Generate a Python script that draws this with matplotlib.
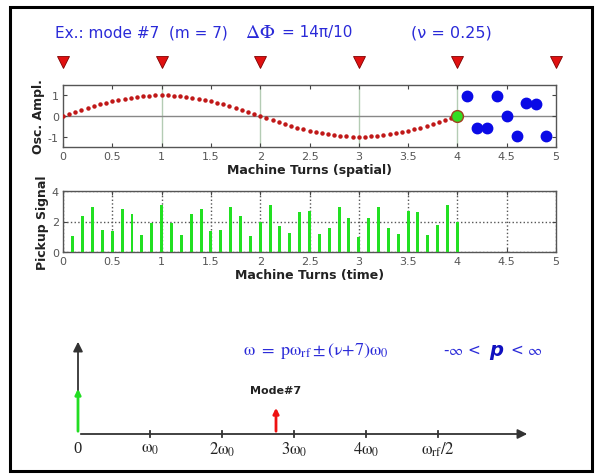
import numpy as np
import matplotlib
matplotlib.use("Agg")
import matplotlib.pyplot as plt
from matplotlib.patches import Rectangle

plt.rcParams['font.family'] = ['DejaVu Sans']
plt.rcParams['mathtext.fontset'] = 'stix'

# ---------------- data ----------------
# spatial oscillation (red dots), sampled every 1/16 turn from 0 to 4
osc_amp = [0, .10, .20, .29, .38, .47, .56, .63, .71, .77, .83, .88, .92, .96, .98, 1.0, 1.0,
           1.0, .98, .96, .92, .88, .83, .77, .71, .63, .56, .47, .38, .29, .20, .10, 0,
           -.10, -.20, -.29, -.38, -.47, -.56, -.63, -.71, -.77, -.83, -.88, -.92, -.96, -.98, -1.0, -1.0,
           -1.0, -.98, -.96, -.92, -.88, -.83, -.77, -.71, -.63, -.56, -.47, -.38, -.29, -.20, -.10, 0]
osc_x = np.linspace(0, 4, len(osc_amp))

# bunch positions (blue dots) beyond turn 4
bunch_x = [4.1, 4.2, 4.3, 4.4, 4.5, 4.6, 4.7, 4.8, 4.9]
bunch_y = [0.97, -0.6, -0.57, 0.97, 0.0, -0.95, 0.61, 0.57, -0.95]
current_x, current_y = 4.0, 0.0

# pickup positions (triangles)
pickup_x = [0, 1, 2, 3, 4, 5]

# pickup signal (green bars)
sig_x = [round(0.1 * i, 1) for i in range(1, 41)]
sig_y = [1.05, 2.38, 2.95, 1.47, 1.37, 2.84, 2.48, 1.10, 1.90, 3.10,
         1.90, 1.10, 2.48, 2.84, 1.37, 1.47, 2.95, 2.38, 1.05, 2.00,
         3.05, 1.72, 1.22, 2.65, 2.72, 1.20, 1.60, 2.97, 2.24, 0.99,
         2.24, 2.97, 1.60, 1.20, 2.72, 2.62, 1.12, 1.76, 3.05, 2.00]

# spectrum (units of omega_0)
spec_ticks = [0, 1, 2, 3, 4, 5]
spec_labels = ['0', r'$\mathrm{\omega_0}$', r'$\mathrm{2\omega_0}$', r'$\mathrm{3\omega_0}$',
               r'$\mathrm{4\omega_0}$', r'$\mathrm{\omega_{rf}/2}$']
dc_line_x, dc_line_h = 0.0, 48
mode_line_x, mode_line_h = 2.75, 29

# ---------------- figure ----------------
W, H = 596, 477
fig = plt.figure(figsize=(W / 100, H / 100), dpi=100)
fig.patch.set_facecolor('white')

def px_axes(l, t, r, b):
    return fig.add_axes([l / W, 1 - b / H, (r - l) / W, (b - t) / H])

# outer frame
fig.patches.append(Rectangle((10 / W, 1 - 472 / H), 582 / W, 464 / H, transform=fig.transFigure,
                             fill=False, edgecolor='black', linewidth=2.2))

blue = '#2a2ad8'
frame_c = '#555555'
tick_c = '#444444'

def style(ax):
    for s in ax.spines.values():
        s.set_color(frame_c)
        s.set_linewidth(1.0)
    ax.tick_params(direction='in', top=True, right=True, labelsize=8, colors=tick_c,
                   length=3, pad=3)
    for lab in ax.get_xticklabels() + ax.get_yticklabels():
        lab.set_color('#555555')

# title texts
fig.text(55 / W, 1 - 33 / H, 'Ex.: mode #7  (m = 7)', color=blue, fontsize=11, va='center', ha='left')
fig.text(245 / W, 1 - 33 / H, r'$\Delta\Phi$', color=blue, fontsize=14, va='center', ha='left')
fig.text(282 / W, 1 - 33 / H, '= 14π/10', color=blue, fontsize=11, va='center', ha='left')
fig.text(411 / W, 1 - 33 / H, '(ν = 0.25)', color=blue, fontsize=11.5, va='center', ha='left')

# ---- top axes ----
ax1 = px_axes(63, 86, 556, 148)
ax1.set_xlim(0, 5)
ax1.set_ylim(-1.5, 1.5)
for v in [1, 2, 3, 4]:
    ax1.axvline(v, color='#b4ccb4', lw=1.0, zorder=1)
ax1.axhline(0, color='#888888', lw=1.0, zorder=1)
ax1.plot(osc_x, osc_amp, linestyle='none', marker='o', ms=2.2, color='#c01818', zorder=3)
ax1.plot(bunch_x, bunch_y, linestyle='none', marker='o', ms=7.5, color='#0a0ae6', zorder=3)
ax1.plot([current_x], [current_y], marker='o', ms=8.5, color='#33dd22', mec='#a04020', mew=1.0, zorder=4)
ax1.plot(pickup_x, [2.62] * len(pickup_x), linestyle='none', marker='v', ms=9,
         color='#e01010', mec='#800000', mew=0.6, clip_on=False, zorder=5)
ax1.set_xticks(np.arange(0, 5.01, 0.5))
ax1.set_xticklabels(['0', '0.5', '1', '1.5', '2', '2.5', '3', '3.5', '4', '4.5', '5'])
ax1.set_yticks([-1, 0, 1])
ax1.set_yticklabels(['-1', '0', '1'])
style(ax1)
ax1.set_xlabel('Machine Turns (spatial)', fontsize=9, fontweight='bold', labelpad=1, color='#222222')
ax1.set_ylabel('Osc. Ampl.', fontsize=9, fontweight='bold', labelpad=2, color='#222222')

# ---- second axes ----
ax2 = px_axes(63, 192, 556, 253)
ax2.set_xlim(0, 5)
ax2.set_ylim(0, 4)
ax2.set_xticks(np.arange(0, 5.01, 0.5))
ax2.set_xticklabels(['0', '0.5', '1', '1.5', '2', '2.5', '3', '3.5', '4', '4.5', '5'])
ax2.set_yticks([0, 2, 4])
ax2.grid(True, linestyle=':', color='#555555', lw=1.0)
ax2.set_axisbelow(True)
ax2.bar(sig_x, sig_y, width=0.03, color='#22e022', edgecolor='none', zorder=3)
style(ax2)
ax2.set_xlabel('Machine Turns (time)', fontsize=9, fontweight='bold', labelpad=1, color='#222222')
ax2.set_ylabel('Pickup Signal', fontsize=9, fontweight='bold', labelpad=2, color='#222222')

# ---- spectrum diagram ----
ax3 = px_axes(40, 320, 560, 470)
x0px, upx = 78, 72.0
ax3.set_xlim((40 - x0px) / upx, (560 - x0px) / upx)
ax3.set_ylim(0, 150)
ax3.axis('off')
base = 35
# x axis arrow
ax3.annotate('', xy=((530 - x0px) / upx, base), xytext=(0, base),
             arrowprops=dict(arrowstyle='-|>', color='#333333', lw=1.3, mutation_scale=14))
# y axis arrow
ax3.annotate('', xy=(0, 130), xytext=(0, base),
             arrowprops=dict(arrowstyle='-|>', color='#333333', lw=1.3, mutation_scale=14))
# ticks
for t, lab in zip(spec_ticks, spec_labels):
    if t > 0:
        ax3.plot([t, t], [base - 3, base + 3], color='#333333', lw=1.3)
    ax3.text(t, base - 6, lab, ha='center', va='top', fontsize=12, family='Liberation Serif',
             color='#222222')
# spectral lines
ax3.annotate('', xy=(dc_line_x, base + dc_line_h), xytext=(dc_line_x, base),
             arrowprops=dict(arrowstyle='-|>', color='#22dd22', lw=2.0, mutation_scale=8))
ax3.annotate('', xy=(mode_line_x, base + mode_line_h), xytext=(mode_line_x, base),
             arrowprops=dict(arrowstyle='-|>', color='#ee1111', lw=2.0, mutation_scale=8))
ax3.text(mode_line_x, base + mode_line_h + 10, 'Mode#7', ha='center', va='bottom', fontsize=8,
         fontweight='bold', color='#222222')

# formula
fig.text(243 / W, 1 - 351 / H, r'$\mathrm{\omega\ =\ p\omega_{rf} \pm (\nu{+}7)\omega_0}$', color=blue,
         fontsize=13, va='center', ha='left')
fig.text(443 / W, 1 - 351 / H, r'-$\infty$ <', color=blue, fontsize=11, va='center', ha='left')
fig.text(489 / W, 1 - 351 / H, 'p', color='#1010c0', fontsize=14, va='center', ha='left',
         fontweight='bold', style='italic')
fig.text(510 / W, 1 - 351 / H, r'< $\infty$', color=blue, fontsize=11, va='center', ha='left')

fig.savefig('out.png', dpi=100)
